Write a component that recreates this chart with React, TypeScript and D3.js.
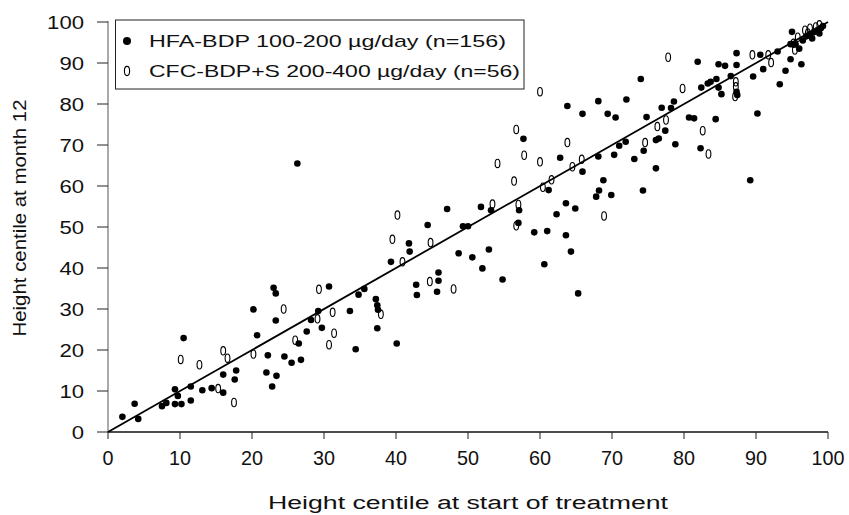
import React from "react";
import * as d3 from "d3";

// HFA-BDP 100-200 µg/day (filled) — [start centile, month-12 centile]
const hfaPoints: [number, number][] = [
  [2.0, 3.7], [3.7, 6.9], [4.2, 3.2], [7.5, 6.3], [8.1, 7.1], [9.3, 10.4], [9.7, 8.8], [9.3, 6.8], [10.2, 6.8],
  [10.5, 22.9], [11.5, 11.1], [11.5, 7.7], [13.1, 10.2], [14.4, 10.7], [16.0, 14.0], [16.0, 9.6], [17.8, 15.0],
  [17.6, 12.8], [20.2, 29.9], [20.7, 23.6], [22.2, 18.7], [22.0, 14.5], [23.4, 13.7], [22.8, 11.1], [23.0, 35.2],
  [23.3, 33.8], [23.3, 27.2],
  [24.5, 18.4], [25.5, 16.9], [26.8, 17.6], [26.5, 21.6], [27.6, 24.5], [28.2, 27.3], [29.2, 29.5], [29.7, 25.4],
  [30.7, 35.5], [33.6, 29.5], [34.4, 20.2], [34.8, 33.5], [35.6, 34.9], [37.2, 32.4], [37.4, 30.9], [37.5, 29.8],
  [37.4, 25.3], [40.1, 21.6], [39.3, 41.5], [41.8, 46.0], [41.9, 44.0], [44.4, 50.5], [42.8, 35.9], [42.9, 33.4],
  [45.9, 38.9], [45.9, 36.9], [45.7, 34.2],
  [47.1, 54.4], [48.7, 43.6], [49.3, 50.2], [50.0, 50.2], [50.6, 42.6], [51.8, 54.9], [52.0, 39.9], [52.9, 44.5],
  [53.2, 54.1], [54.8, 37.2], [57.1, 54.1], [57.0, 51.0], [57.7, 71.5], [59.2, 48.7], [61.0, 49.0], [60.6, 40.9],
  [61.2, 59.0], [62.3, 53.1], [63.6, 55.8], [63.6, 48.0], [64.9, 54.5], [64.3, 44.0], [65.3, 33.8], [62.8, 66.9],
  [63.8, 79.5], [65.9, 77.6], [65.9, 63.5], [68.1, 67.2], [68.1, 80.7], [69.4, 77.6], [70.5, 76.7], [70.3, 67.6],
  [71.0, 69.8], [68.8, 61.4], [68.2, 58.9], [67.8, 57.4], [69.9, 57.8],
  [95.0, 97.6], [87.3, 92.4], [81.9, 90.3], [84.8, 89.7], [85.7, 89.3], [87.3, 89.5], [90.6, 92.0], [93.0, 92.8],
  [94.8, 94.6], [94.8, 90.9], [96.3, 89.7], [94.1, 88.1], [93.3, 84.8], [91.0, 88.5], [89.6, 86.7], [86.5, 86.8],
  [84.5, 86.1], [83.7, 85.4], [83.3, 85.0], [84.8, 84.0], [85.2, 82.4], [82.4, 84.0], [87.3, 83.0], [87.4, 82.2],
  [74.0, 86.1], [78.6, 80.6], [78.2, 79.0], [76.9, 79.1], [72.0, 81.1], [74.8, 76.8], [80.7, 76.7], [81.4, 76.5],
  [84.4, 76.3], [90.2, 77.7], [77.4, 73.5], [76.5, 71.6], [76.1, 71.2], [78.8, 70.2], [82.3, 69.2], [71.9, 70.8],
  [74.4, 68.6], [73.1, 66.6], [76.1, 64.3], [89.2, 61.4], [74.3, 58.9],
  [26.3, 65.5],
  [95.5, 94.5], [96.5, 95.5], [97.0, 96.5], [97.5, 97.0], [98.0, 97.5], [98.5, 98.0], [99.0, 98.5], [97.8, 96.0],
  [96.0, 93.5], [98.8, 97.2], [99.3, 99.0],
];

// CFC-BDP+S 200-400 µg/day (open "0" markers)
const cfcPoints: [number, number][] = [
  [10.1, 17.7], [12.7, 16.4], [16.0, 19.8], [16.6, 18.0], [15.3, 10.6], [17.5, 7.2], [20.2, 19.0],
  [24.4, 30.0], [26.0, 22.4], [29.3, 34.8], [29.1, 27.6], [31.2, 29.2], [31.4, 24.1], [30.7, 21.3], [37.9, 28.7],
  [39.5, 47.0], [40.2, 52.9], [40.9, 41.5], [44.8, 46.2], [44.7, 36.7],
  [48.0, 34.9], [53.4, 55.6], [54.1, 65.5], [56.7, 73.8], [57.8, 67.5], [56.4, 61.2], [57.0, 55.5], [56.7, 50.3],
  [60.0, 65.9], [60.4, 59.7], [61.6, 61.5], [63.8, 70.6], [64.5, 64.7], [65.8, 66.5], [68.9, 52.7], [60.0, 83.0],
  [77.8, 91.4], [89.5, 92.0], [91.7, 92.0], [92.1, 90.1], [95.4, 93.2], [79.8, 83.8], [87.2, 85.4], [87.2, 84.2],
  [87.1, 81.8], [77.5, 76.1], [76.3, 74.5], [74.6, 70.6], [82.6, 73.5], [83.4, 67.8],
  [95.8, 96.3], [96.8, 98.0], [97.5, 98.5], [98.3, 98.8], [98.8, 99.3], [97.2, 97.3], [95.2, 94.8],
];

const fitLine: [number, number][] = [[0, 0], [100, 100]];
const xTicks = [0, 10, 20, 30, 40, 50, 60, 70, 80, 90, 100];
const yTicks = [0, 10, 20, 30, 40, 50, 60, 70, 80, 90, 100];
const legendLabels = ["HFA-BDP 100-200 \u00B5g/day (n=156)", "CFC-BDP+S 200-400 \u00B5g/day (n=56)"];
const xTitle = "Height centile at start of treatment";
const yTitle = "Height centile at month 12";

const W = 849;
const H = 515;
const FONT = "'Liberation Sans', Arial, sans-serif";

export default function App() {
  const x = d3.scaleLinear().domain([0, 100]).range([108, 828]);
  const y = d3.scaleLinear().domain([0, 100]).range([432, 22]);
  const line = d3.line<[number, number]>().x((d) => x(d[0])).y((d) => y(d[1]));

  return (
    <svg width={W} height={H} style={{ position: "absolute", left: 0, top: 0, background: "#fff" }} fontFamily={FONT}>
      <rect x={0} y={0} width={W} height={H} fill="#fff" />
      {/* axes */}
      <line x1={x(0)} x2={x(0)} y1={y(100) - 1} y2={y(0)} stroke="#555" strokeWidth={1} />
      <line x1={x(0)} x2={x(100)} y1={y(0)} y2={y(0)} stroke="#111" strokeWidth={1.3} />
      {yTicks.map((t) => (
        <g key={"y" + t}>
          <line x1={x(0) - 11} x2={x(0)} y1={y(t)} y2={y(t)} stroke="#222" strokeWidth={1} />
          <text
            x={84}
            y={y(t) + 6.5}
            fontSize={18}
            textAnchor="end"
            textLength={12.3 * String(t).length}
            lengthAdjust="spacingAndGlyphs"
            fill="#111"
          >
            {t}
          </text>
        </g>
      ))}
      {xTicks.map((t) => (
        <g key={"x" + t}>
          <line x1={x(t)} x2={x(t)} y1={y(0)} y2={y(0) + 7} stroke="#222" strokeWidth={1} />
          <text
            x={x(t)}
            y={465}
            fontSize={21}
            textAnchor="middle"
            textLength={11 * String(t).length}
            lengthAdjust="spacingAndGlyphs"
            fill="#111"
          >
            {t}
          </text>
        </g>
      ))}
      <text x={468} y={509} fontSize={18} textAnchor="middle" textLength={400} lengthAdjust="spacingAndGlyphs" fill="#111">
        {xTitle}
      </text>
      <text
        transform={`translate(26,${218}) rotate(-90)`}
        fontSize={18}
        textAnchor="middle"
        textLength={237}
        lengthAdjust="spacingAndGlyphs"
        fill="#111"
      >
        {yTitle}
      </text>

      {/* fit line */}
      <path d={line(fitLine) || ""} fill="none" stroke="#000" strokeWidth={1.8} />

      {/* points */}
      {hfaPoints.map((p, i) => (
        <circle key={"h" + i} cx={x(p[0])} cy={y(p[1])} r={3.3} fill="#000" />
      ))}
      {cfcPoints.map((p, i) => (
        <ellipse key={"c" + i} cx={x(p[0])} cy={y(p[1])} rx={2.4} ry={4.2} fill="none" stroke="#000" strokeWidth={1.1} />
      ))}

      {/* legend */}
      <rect x={115.5} y={20} width={408.5} height={69} fill="#fff" stroke="#222" strokeWidth={1} />
      <circle cx={127} cy={41} r={4} fill="#000" />
      <ellipse cx={127} cy={71} rx={2.6} ry={4.6} fill="none" stroke="#000" strokeWidth={1.1} />
      <text x={149} y={47} fontSize={17} textLength={357} lengthAdjust="spacingAndGlyphs" fill="#111">
        {legendLabels[0]}
      </text>
      <text x={149} y={77} fontSize={17} textLength={371} lengthAdjust="spacingAndGlyphs" fill="#111">
        {legendLabels[1]}
      </text>
    </svg>
  );
}
